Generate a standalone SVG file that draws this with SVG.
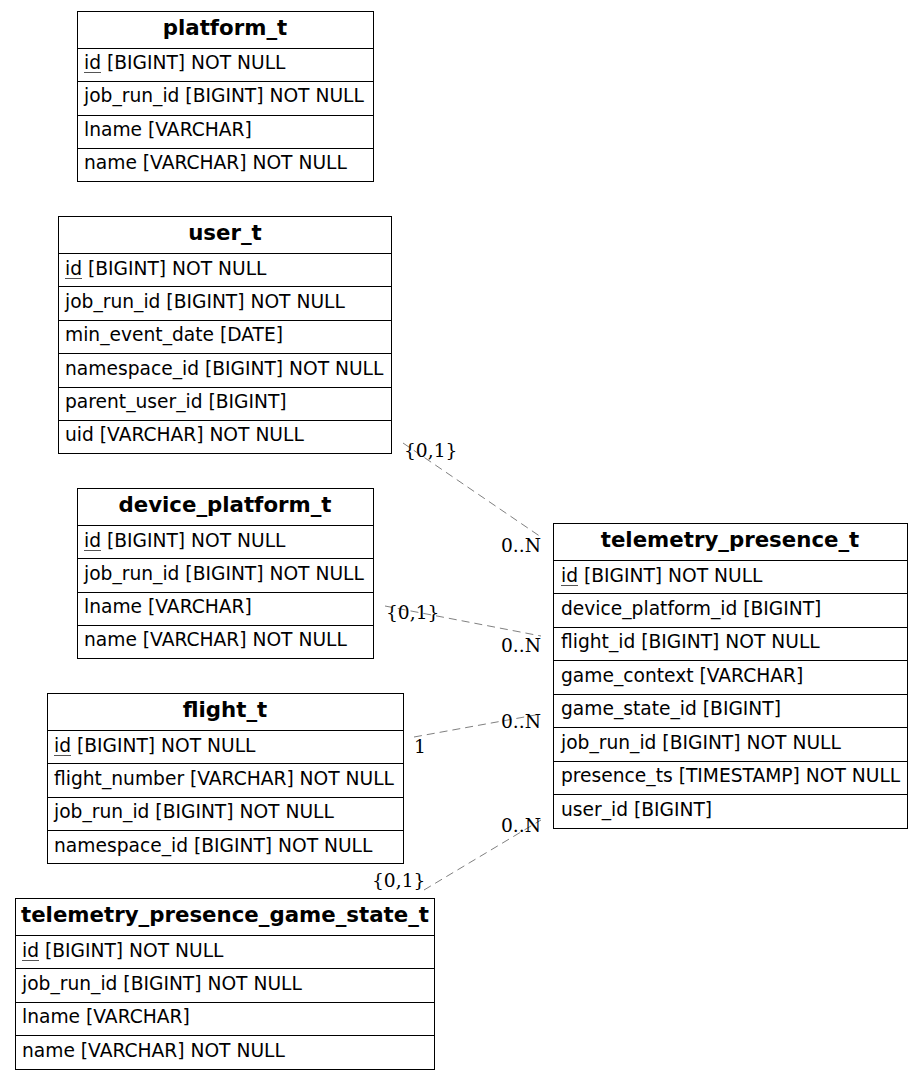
<svg xmlns="http://www.w3.org/2000/svg" width="923" height="1080" viewBox="0 0 923 1080">
<style>
.bg{fill:#fff}
.box{fill:#fff;stroke:#000;stroke-width:1}
.sep{stroke:#000;stroke-width:1}
.h{font-family:"DejaVu Sans",sans-serif;font-size:21.3px;font-weight:bold;text-anchor:middle;fill:#000}
.r{font-family:"DejaVu Sans",sans-serif;font-size:18.67px;fill:#000}
.u{stroke:#555;stroke-width:1}
.e{fill:none;stroke:#808080;stroke-width:1;stroke-dasharray:8,5}
.l{font-family:"DejaVu Serif",serif;font-size:18.67px;fill:#000}
.le{text-anchor:end}
</style>
<rect class="bg" x="0" y="0" width="923" height="1080"/>
<g id="connectors">
<path class="e" d="M403,443 L541,537"/>
<path class="e" d="M385,606 L541,636"/>
<path class="e" d="M414,737 L541,714"/>
<path class="e" d="M424,890 L541,820"/>
<text class="l" x="404" y="457">{0,1}</text>
<text class="l le" x="541" y="552">0..N</text>
<text class="l" x="386" y="619">{0,1}</text>
<text class="l le" x="541" y="652">0..N</text>
<text class="l" x="414" y="753">1</text>
<text class="l le" x="541" y="728">0..N</text>
<text class="l" x="372" y="887">{0,1}</text>
<text class="l le" x="541" y="832">0..N</text>
</g>
<g id="platform_t">
<rect class="box" x="77.5" y="11.5" width="296" height="170"/>
<line class="sep" x1="77.5" y1="48.5" x2="373.5" y2="48.5"/>
<line class="sep" x1="77.5" y1="81.5" x2="373.5" y2="81.5"/>
<line class="sep" x1="77.5" y1="115.5" x2="373.5" y2="115.5"/>
<line class="sep" x1="77.5" y1="148.5" x2="373.5" y2="148.5"/>
<text class="h" x="225" y="35">platform_t</text>
<text class="r" x="84" y="69">id [BIGINT] NOT NULL</text>
<line class="u" x1="84" y1="72.5" x2="101" y2="72.5"/>
<text class="r" x="84" y="102">job_run_id [BIGINT] NOT NULL</text>
<text class="r" x="84" y="136">lname [VARCHAR]</text>
<text class="r" x="84" y="169">name [VARCHAR] NOT NULL</text>
</g>
<g id="user_t">
<rect class="box" x="58.5" y="216.5" width="333" height="237"/>
<line class="sep" x1="58.5" y1="253.5" x2="391.5" y2="253.5"/>
<line class="sep" x1="58.5" y1="286.5" x2="391.5" y2="286.5"/>
<line class="sep" x1="58.5" y1="320.5" x2="391.5" y2="320.5"/>
<line class="sep" x1="58.5" y1="353.5" x2="391.5" y2="353.5"/>
<line class="sep" x1="58.5" y1="387.5" x2="391.5" y2="387.5"/>
<line class="sep" x1="58.5" y1="420.5" x2="391.5" y2="420.5"/>
<text class="h" x="225" y="240">user_t</text>
<text class="r" x="65" y="275">id [BIGINT] NOT NULL</text>
<line class="u" x1="65" y1="278.5" x2="82" y2="278.5"/>
<text class="r" x="65" y="308">job_run_id [BIGINT] NOT NULL</text>
<text class="r" x="65" y="341">min_event_date [DATE]</text>
<text class="r" x="65" y="375">namespace_id [BIGINT] NOT NULL</text>
<text class="r" x="65" y="408">parent_user_id [BIGINT]</text>
<text class="r" x="65" y="441">uid [VARCHAR] NOT NULL</text>
</g>
<g id="device_platform_t">
<rect class="box" x="77.5" y="488.5" width="296" height="170"/>
<line class="sep" x1="77.5" y1="525.5" x2="373.5" y2="525.5"/>
<line class="sep" x1="77.5" y1="558.5" x2="373.5" y2="558.5"/>
<line class="sep" x1="77.5" y1="592.5" x2="373.5" y2="592.5"/>
<line class="sep" x1="77.5" y1="625.5" x2="373.5" y2="625.5"/>
<text class="h" x="225" y="512">device_platform_t</text>
<text class="r" x="84" y="547">id [BIGINT] NOT NULL</text>
<line class="u" x1="84" y1="550.5" x2="101" y2="550.5"/>
<text class="r" x="84" y="580">job_run_id [BIGINT] NOT NULL</text>
<text class="r" x="84" y="613">lname [VARCHAR]</text>
<text class="r" x="84" y="646">name [VARCHAR] NOT NULL</text>
</g>
<g id="flight_t">
<rect class="box" x="47.5" y="693.5" width="356" height="170"/>
<line class="sep" x1="47.5" y1="730.5" x2="403.5" y2="730.5"/>
<line class="sep" x1="47.5" y1="763.5" x2="403.5" y2="763.5"/>
<line class="sep" x1="47.5" y1="797.5" x2="403.5" y2="797.5"/>
<line class="sep" x1="47.5" y1="830.5" x2="403.5" y2="830.5"/>
<text class="h" x="225" y="717">flight_t</text>
<text class="r" x="54" y="752">id [BIGINT] NOT NULL</text>
<line class="u" x1="54" y1="755.5" x2="71" y2="755.5"/>
<text class="r" x="54" y="785">flight_number [VARCHAR] NOT NULL</text>
<text class="r" x="54" y="818">job_run_id [BIGINT] NOT NULL</text>
<text class="r" x="54" y="852">namespace_id [BIGINT] NOT NULL</text>
</g>
<g id="telemetry_presence_game_state_t">
<rect class="box" x="15.5" y="898.5" width="419" height="171"/>
<line class="sep" x1="15.5" y1="935.5" x2="434.5" y2="935.5"/>
<line class="sep" x1="15.5" y1="968.5" x2="434.5" y2="968.5"/>
<line class="sep" x1="15.5" y1="1002.5" x2="434.5" y2="1002.5"/>
<line class="sep" x1="15.5" y1="1035.5" x2="434.5" y2="1035.5"/>
<text class="h" x="225" y="922">telemetry_presence_game_state_t</text>
<text class="r" x="22" y="957">id [BIGINT] NOT NULL</text>
<line class="u" x1="22" y1="960.5" x2="39" y2="960.5"/>
<text class="r" x="22" y="990">job_run_id [BIGINT] NOT NULL</text>
<text class="r" x="22" y="1023">lname [VARCHAR]</text>
<text class="r" x="22" y="1057">name [VARCHAR] NOT NULL</text>
</g>
<g id="telemetry_presence_t">
<rect class="box" x="553.5" y="523.5" width="354" height="305"/>
<line class="sep" x1="553.5" y1="560.5" x2="907.5" y2="560.5"/>
<line class="sep" x1="553.5" y1="593.5" x2="907.5" y2="593.5"/>
<line class="sep" x1="553.5" y1="627.5" x2="907.5" y2="627.5"/>
<line class="sep" x1="553.5" y1="660.5" x2="907.5" y2="660.5"/>
<line class="sep" x1="553.5" y1="694.5" x2="907.5" y2="694.5"/>
<line class="sep" x1="553.5" y1="727.5" x2="907.5" y2="727.5"/>
<line class="sep" x1="553.5" y1="761.5" x2="907.5" y2="761.5"/>
<line class="sep" x1="553.5" y1="794.5" x2="907.5" y2="794.5"/>
<text class="h" x="730" y="547">telemetry_presence_t</text>
<text class="r" x="561" y="582">id [BIGINT] NOT NULL</text>
<line class="u" x1="561" y1="585.5" x2="578" y2="585.5"/>
<text class="r" x="561" y="615">device_platform_id [BIGINT]</text>
<text class="r" x="561" y="648">flight_id [BIGINT] NOT NULL</text>
<text class="r" x="561" y="682">game_context [VARCHAR]</text>
<text class="r" x="561" y="715">game_state_id [BIGINT]</text>
<text class="r" x="561" y="749">job_run_id [BIGINT] NOT NULL</text>
<text class="r" x="561" y="782">presence_ts [TIMESTAMP] NOT NULL</text>
<text class="r" x="561" y="816">user_id [BIGINT]</text>
</g>
</svg>
